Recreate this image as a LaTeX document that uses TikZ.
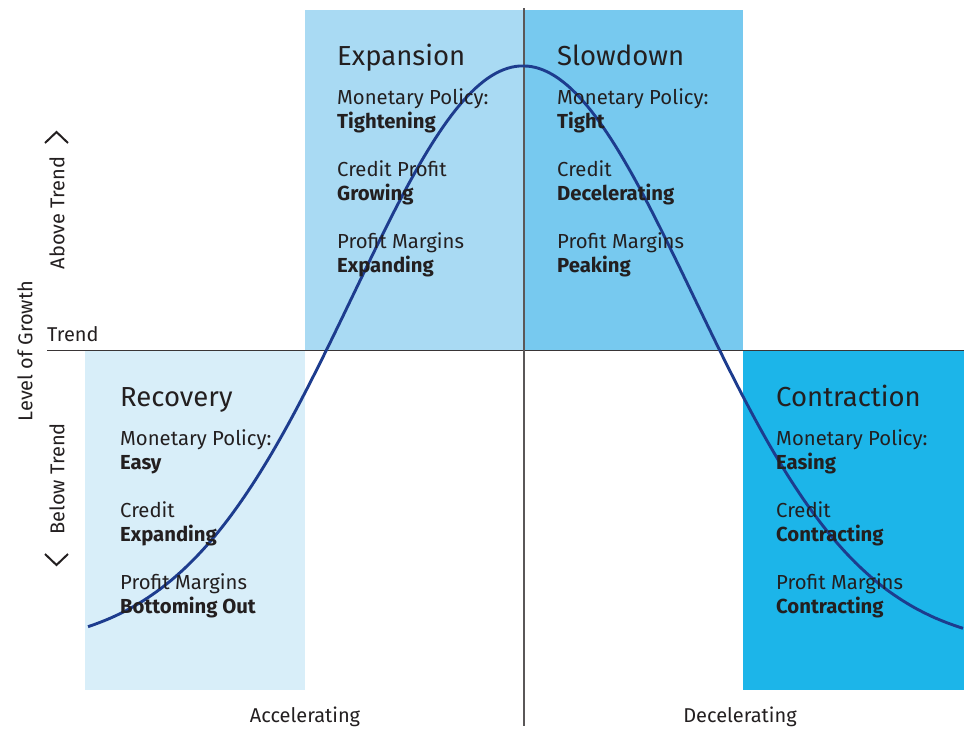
\documentclass[tikz,border=0pt]{standalone}
\usepackage{fontspec}
\setmainfont{Fira Sans}
\definecolor{ink}{HTML}{231F20}
\definecolor{recov}{HTML}{D8EEF9}
\definecolor{expan}{HTML}{A9DAF3}
\definecolor{slow}{HTML}{77C9EF}
\definecolor{contr}{HTML}{1CB5E9}
\definecolor{curve}{HTML}{1D3C8E}
\begin{document}
\begin{tikzpicture}[x=1pt,y=-1pt,
  txt/.style={anchor=base west, inner sep=0pt, text=ink, font=\fontsize{20.3}{22}\selectfont},
  val/.style={anchor=base west, inner sep=0pt, text=ink, font=\fontsize{20.3}{22}\selectfont\bfseries},
  ttl/.style={anchor=base west, inner sep=0pt, text=ink, font=\fontsize{27.5}{30}\selectfont},
  axl/.style={inner sep=0pt, text=ink, font=\fontsize{20}{22}\selectfont},
  chev/.style={draw=ink, line width=2pt},
  quad/.style={draw=none, inner sep=0pt, anchor=north west}]
\useasboundingbox (0,0) rectangle (964,729);
% quadrant boxes
\node[quad, fill=recov, minimum width=220pt, minimum height=340pt] (recbox) at (85,350) {};
\node[quad, fill=expan, minimum width=219pt, minimum height=340pt] (expbox) at (305,10) {};
\node[quad, fill=slow, minimum width=219pt, minimum height=340pt] (slobox) at (524,10) {};
\node[quad, fill=contr, minimum width=221pt, minimum height=340pt] (conbox) at (743,350) {};
% axes
\coordinate (trendL) at (47,350);
\coordinate (trendR) at (964,350);
\coordinate (vtop) at (524,8);
\coordinate (vbot) at (524,726);
\draw[ink!90, line width=1pt] (trendL) -- (trendR);
\draw[ink!75, line width=1.1pt] (vtop) -- (vbot);
% curve
\draw[curve, line width=2.9pt] plot[domain=88:963, samples=220]
  ({\x}, {648.7 - 582.7*exp(-((\x-523)/240.4)^2)});
% Expansion
\node[ttl] (e0) at (337,65) {Expansion};
\node[txt] (e1) at (337,104) {Monetary Policy:};
\node[val] (e2) at (337,128) {Tightening};
\node[txt] (e3) at (337,176) {Credit Profit};
\node[val] (e4) at (337,200) {Growing};
\node[txt] (e5) at (337,248) {Profit Margins};
\node[val] (e6) at (337,272) {Expanding};
% Slowdown
\node[ttl] (s0) at (557,65) {Slowdown};
\node[txt] (s1) at (557,104) {Monetary Policy:};
\node[val] (s2) at (557,128) {Tight};
\node[txt] (s3) at (557,176) {Credit};
\node[val] (s4) at (557,200) {Decelerating};
\node[txt] (s5) at (557,248) {Profit Margins};
\node[val] (s6) at (557,272) {Peaking};
% Recovery
\node[ttl] (r0) at (120,406) {Recovery};
\node[txt] (r1) at (120,445) {Monetary Policy:};
\node[val] (r2) at (120,469) {Easy};
\node[txt] (r3) at (120,517) {Credit};
\node[val] (r4) at (120,541) {Expanding};
\node[txt] (r5) at (120,589) {Profit Margins};
\node[val] (r6) at (120,613) {Bottoming Out};
% Contraction
\node[ttl] (c0) at (776,406) {Contraction};
\node[txt] (c1) at (776,445) {Monetary Policy:};
\node[val] (c2) at (776,469) {Easing};
\node[txt] (c3) at (776,517) {Credit};
\node[val] (c4) at (776,541) {Contracting};
\node[txt] (c5) at (776,589) {Profit Margins};
\node[val] (c6) at (776,613) {Contracting};
% left axis labels
\node[axl, rotate=90] (lvl) at (25,351) {Level of Growth};
\node[axl, rotate=90] (abv) at (57,213) {Above Trend};
\node[axl, rotate=90] (blw) at (57,479) {Below Trend};
\node[txt, font=\fontsize{20}{22}\selectfont] (trd) at (47,341) {Trend};
\coordinate (cu1) at (45,143);
\coordinate (cu2) at (56.5,132);
\coordinate (cu3) at (68,143);
\draw[chev] (cu1) -- (cu2) -- (cu3);
\coordinate (cd1) at (45,554);
\coordinate (cd2) at (56.5,565);
\coordinate (cd3) at (68,554);
\draw[chev] (cd1) -- (cd2) -- (cd3);
% bottom labels
\node[axl, anchor=base] (acc) at (305,722) {Accelerating};
\node[axl, anchor=base] (dec) at (740,722) {Decelerating};
\end{tikzpicture}
\end{document}
